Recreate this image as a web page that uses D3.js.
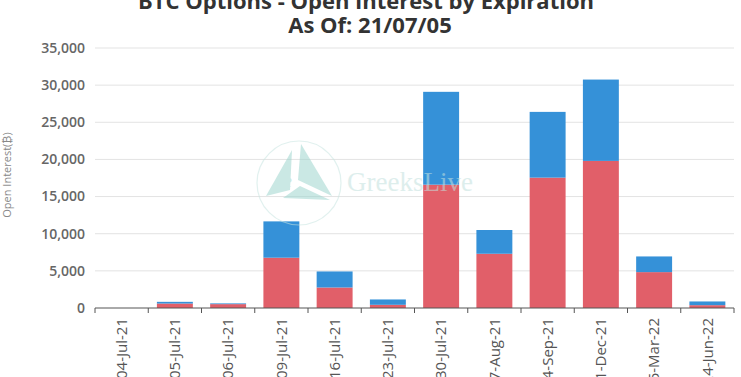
<!DOCTYPE html>
<html lang="en">
<head>
    <meta charset="UTF-8">
    <title>BTC Options - Open Interest by Expiration</title>
    <script src="https://d3js.org/d3.v7.min.js"></script>
    <style>
        body { margin: 0; background: #fff; font-family: "Open Sans", Arial, sans-serif; }
        svg { display: block; }
    </style>
</head>
<body>
    <div id="chart"></div>
    <script>
        // data
        const expiries = ["04-Jul-21", "05-Jul-21", "06-Jul-21", "09-Jul-21", "16-Jul-21", "23-Jul-21",
                          "30-Jul-21", "27-Aug-21", "24-Sep-21", "31-Dec-21", "25-Mar-22", "24-Jun-22"];
        const callsOI = [0, 600, 520, 6770, 2760, 430, 16600, 7300, 17550, 19800, 4830, 380];
        const putsOI = [0, 230, 100, 4890, 2160, 720, 12500, 3200, 8850, 10950, 2110, 500];
        const yTicks = [0, 5000, 10000, 15000, 20000, 25000, 30000, 35000];

        const width = 741, height = 377;
        const margin = { top: 48, right: 7, bottom: 69, left: 95 };
        const innerW = width - margin.left - margin.right;
        const innerH = height - margin.top - margin.bottom;

        const svg = d3.select("#chart").append("svg")
            .attr("width", width)
            .attr("height", height);

        const x = d3.scaleBand().domain(expiries).range([0, innerW]).paddingInner(0.325).paddingOuter(0.1625);
        const xEdge = d3.scaleLinear().domain([0, expiries.length]).range([0, innerW]);
        const y = d3.scaleLinear().domain([0, 35000]).range([innerH, 0]);

        const g = svg.append("g").attr("transform", `translate(${margin.left},${margin.top})`);

        // gridlines
        g.selectAll(".grid").data(yTicks.filter(d => d > 0)).enter()
            .append("line")
            .attr("x1", 0).attr("x2", innerW)
            .attr("y1", d => y(d)).attr("y2", d => y(d))
            .attr("stroke", "#e3e3e3").attr("stroke-width", 1);

        // watermark
        const wm = svg.append("g").attr("opacity", 0.55);
        wm.append("circle").attr("cx", 299).attr("cy", 183).attr("r", 42)
            .attr("fill", "none").attr("stroke", "#c9e6e2").attr("stroke-width", 1.2);
        wm.append("path").attr("d", "M266,196 L292,150 L290,190 Z").attr("fill", "#9fd6cf");
        wm.append("path").attr("d", "M301,144 L332,196 L298,180 Z").attr("fill", "#9fd6cf");
        wm.append("path").attr("d", "M283,198 L330,200 L300,186 Z").attr("fill", "#9fd6cf");
        wm.append("text").attr("x", 283).attr("y", 188).text("e")
            .style("font-family", "Liberation Serif, serif").style("font-size", "20px").style("fill", "#9fd6cf").style("font-style", "italic");
        wm.append("text").attr("x", 347).attr("y", 191).text("GreeksLive")
            .style("font-family", "Liberation Serif, serif").style("font-size", "27px").style("fill", "#c3e1de");

        // stacked bars
        const stacked = expiries.map((e, i) => ({ e, calls: callsOI[i], puts: putsOI[i] }));
        g.selectAll(".call").data(stacked).enter().append("rect")
            .attr("x", d => x(d.e)).attr("width", x.bandwidth())
            .attr("y", d => y(d.calls)).attr("height", d => y(0) - y(d.calls))
            .attr("fill", "#e15f69");
        g.selectAll(".put").data(stacked).enter().append("rect")
            .attr("x", d => x(d.e)).attr("width", x.bandwidth())
            .attr("y", d => y(d.calls + d.puts)).attr("height", d => y(d.calls) - y(d.calls + d.puts))
            .attr("fill", "#3591d8");

        // y axis labels
        g.selectAll(".ylab").data(yTicks).enter().append("text")
            .attr("x", -10).attr("y", d => y(d)).attr("dy", "0.35em")
            .attr("text-anchor", "end")
            .style("font-size", "14px").style("font-weight", "600").style("fill", "#666")
            .text(d => d3.format(",")(d));

        // x axis line + ticks at band edges
        g.append("line").attr("x1", 0).attr("x2", innerW).attr("y1", innerH).attr("y2", innerH)
            .attr("stroke", "#555").attr("stroke-width", 1);
        g.selectAll(".xtick").data(d3.range(expiries.length + 1)).enter().append("line")
            .attr("x1", d => xEdge(d)).attr("x2", d => xEdge(d))
            .attr("y1", innerH).attr("y2", innerH + 5)
            .attr("stroke", "#555");

        g.selectAll(".xlab").data(expiries).enter().append("text")
            .attr("transform", d => `translate(${x(d) + x.bandwidth() / 2},${innerH + 10}) rotate(-90)`)
            .attr("text-anchor", "end").attr("dy", "0.35em")
            .style("font-size", "15px").style("fill", "#555")
            .text(d => d);

        // axis title
        svg.append("text")
            .attr("transform", "translate(11,175) rotate(-90)")
            .attr("text-anchor", "middle")
            .style("font-size", "11px").style("fill", "#888")
            .text("Open Interest(₿)");

        // title
        svg.append("text").attr("x", 366).attr("y", 9).attr("text-anchor", "middle")
            .style("font-size", "22px").style("font-weight", "bold").style("fill", "#333")
            .text("BTC Options - Open Interest by Expiration");
        svg.append("text").attr("x", 370).attr("y", 33).attr("text-anchor", "middle")
            .style("font-size", "22px").style("font-weight", "bold").style("fill", "#333")
            .text("As Of: 21/07/05");
    </script>
</body>
</html>
